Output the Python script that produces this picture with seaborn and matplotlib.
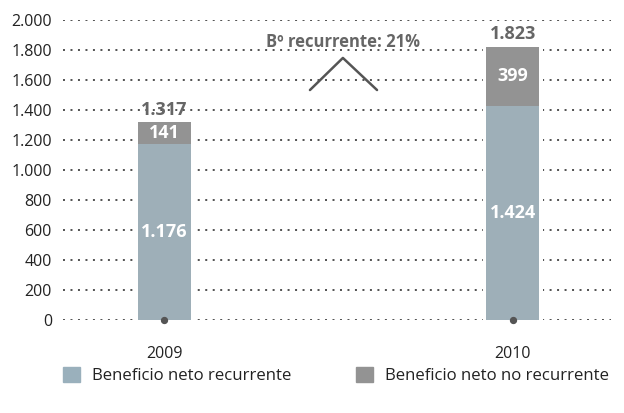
import pandas as pd
import seaborn as sns
import matplotlib.pyplot as plt
from matplotlib.patches import Patch

years = ["2009", "2010"]
recurrente = [1176, 1424]
no_recurrente = [141, 399]
totales = [1317, 1823]
crecimiento = "Bº recurrente: 21%"
yticks = [0, 200, 400, 600, 800, 1000, 1200, 1400, 1600, 1800, 2000]

def fmt(v):
    return f"{v:,}".replace(",", ".")

df = pd.DataFrame({"year": years, "rec": recurrente, "norec": no_recurrente, "total": totales})

sns.set_style("white")
plt.rcParams["font.family"] = ["Open Sans", "DejaVu Sans"]

c_rec = "#9AB0BC"
c_norec = "#939393"
c_text = "#666666"

fig = plt.figure(figsize=(6.24, 4.13), dpi=100)
ax = fig.add_axes([0.101, 0.2252, 0.878, 0.7264])

# white halo behind bars so the dotted grid stops short of them
sns.barplot(data=df, x="year", y="total", color="white", width=0.17, ax=ax, zorder=2)
sns.barplot(data=df, x="year", y="total", color=c_norec, width=0.152, ax=ax, zorder=3)
sns.barplot(data=df, x="year", y="rec", color=c_rec, width=0.152, ax=ax, zorder=4)
for p in ax.patches:
    p.set_linewidth(0)

# small dots at bar bases
ax.scatter([0, 1], [0, 0], s=18, color="#555555", zorder=6, clip_on=False)

for i in range(len(years)):
    ax.text(i, recurrente[i] / 2, fmt(recurrente[i]), ha="center", va="center",
            color="white", fontsize=13, fontweight="bold", zorder=7)
    ax.text(i, recurrente[i] + no_recurrente[i] / 2, fmt(no_recurrente[i]), ha="center",
            va="center", color="white", fontsize=13, fontweight="bold", zorder=7)
    ax.text(i, totales[i] + 25, fmt(totales[i]), ha="center", va="bottom",
            color=c_text, fontsize=13, fontweight="bold", zorder=7)

ax.text(0.512, 1853, crecimiento, ha="center", va="center", color=c_text,
        fontsize=12, fontweight="bold")
ax.plot([0.4175, 0.512, 0.61], [1533, 1747, 1533], color="#555555", lw=1.8)

ax.set_ylim(0, 2000)
ax.set_xlim(-0.291, 1.281)
ax.set_yticks(yticks)
ax.set_yticklabels([fmt(v) for v in yticks])
ax.yaxis.grid(True, color="#222222", linestyle=(0, (1.3, 3.6)), linewidth=1.1)
ax.set_axisbelow(True)
for s in ax.spines.values():
    s.set_visible(False)
ax.tick_params(axis="both", length=0, labelsize=11.5, colors="#222222")
ax.tick_params(axis="x", pad=19)
ax.tick_params(axis="y", pad=8)
ax.set_xlabel("")
ax.set_ylabel("")

handles = [Patch(color=c_rec), Patch(color=c_norec)]
fig.legend(handles, ["Beneficio neto recurrente", "Beneficio neto no recurrente"],
           loc="center", bbox_to_anchor=(0.5385, 0.091), ncol=2, frameon=False,
           fontsize=12.1, handlelength=1.0, handleheight=1.0, handletextpad=0.7,
           columnspacing=3.9, labelcolor="#222222")

fig.savefig("out.png", dpi=100)
